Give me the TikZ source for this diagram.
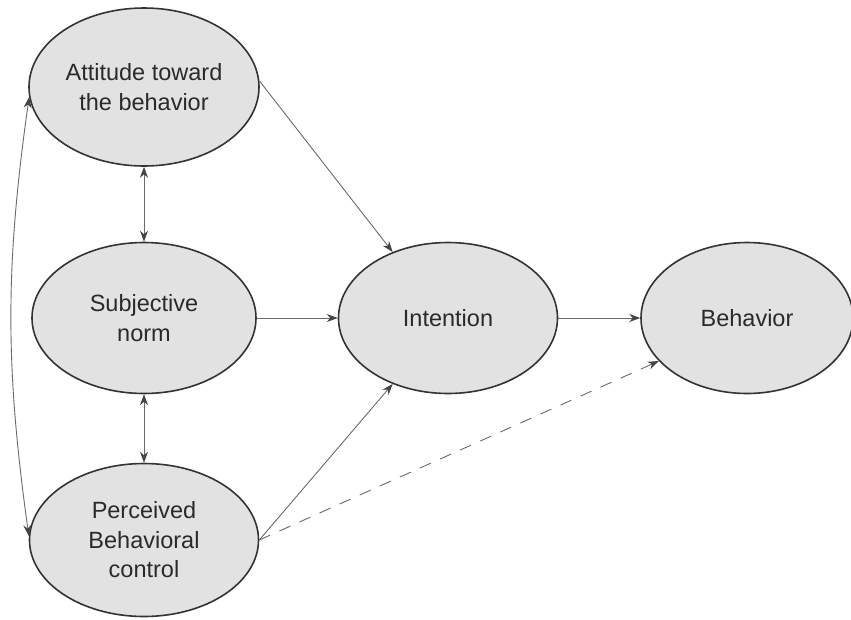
\documentclass[tikz,border=0pt]{standalone}
\usepackage{fontspec}
\setmainfont{Liberation Sans}
\usetikzlibrary{arrows.meta,shapes.geometric}
\definecolor{ellfill}{HTML}{E2E2E2}
\definecolor{ellline}{HTML}{333333}
\definecolor{conline}{HTML}{6A6A6A}
\definecolor{tipcol}{HTML}{444444}
\definecolor{txtcol}{HTML}{2A2A2A}
\begin{document}
\begin{tikzpicture}[x=1pt,y=-1pt,
  construct/.style={ellipse,draw=ellline,line width=1.6pt,fill=ellfill,inner sep=0pt,
    align=center,text=txtcol,font=\fontsize{23.5}{29.5}\selectfont},
  conn/.style={draw=conline,line width=0.9pt,-{Stealth[length=11pt,width=8pt,color=tipcol]}},
  both/.style={draw=conline,line width=0.9pt,{Stealth[length=11pt,width=8pt,color=tipcol]}-{Stealth[length=11pt,width=8pt,color=tipcol]}},
  dashconn/.style={conn,dash pattern=on 12pt off 10pt}
]
\useasboundingbox (0,0) rectangle (851,619);
\fill[white] (0,0) rectangle (851,619);
\node[construct,minimum width=230pt,minimum height=158pt] (A) at (144,87) {Attitude toward\\the behavior};
\node[construct,minimum width=224pt,minimum height=151pt] (S) at (144,318) {Subjective\\norm};
\node[construct,minimum width=229pt,minimum height=153pt] (P) at (144,540) {Perceived\\Behavioral\\control};
\node[construct,minimum width=219pt,minimum height=151pt] (I) at (448,318) {Intention};
\node[construct,minimum width=212pt,minimum height=151pt] (B) at (747,318) {Behavior};

\draw[conn] (A.3) -- (I.130);
\draw[conn] (S.east) -- (I.west);
\draw[conn] (P.east) -- (I.230);
\draw[dashconn] (P.east) -- (B.206);
\draw[conn] (I.east) -- (B.west);
\draw[both] (A.south) -- (S.north);
\draw[both] (S.south) -- (P.north);
\draw[both] (A.185) to[bend right=8] (P.178);
\end{tikzpicture}
\end{document}
